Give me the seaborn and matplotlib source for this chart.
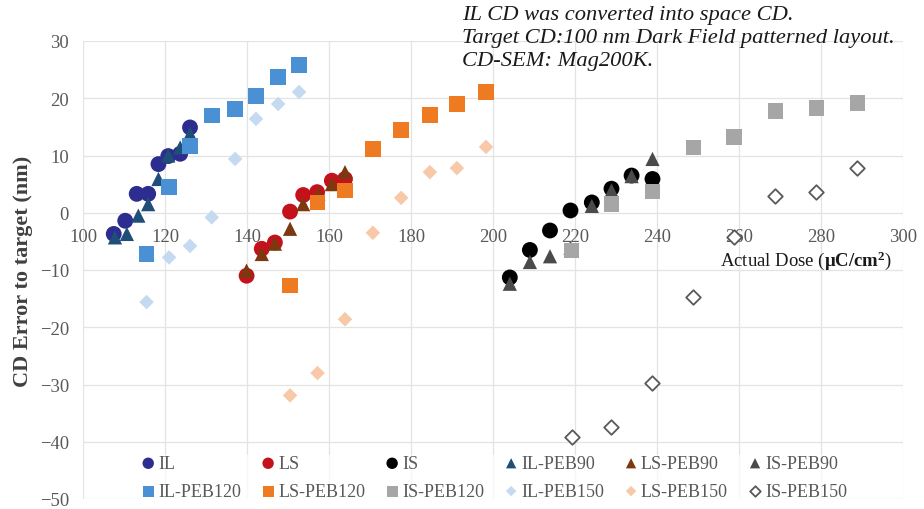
import matplotlib
matplotlib.use("Agg")
import matplotlib.pyplot as plt
import seaborn as sns
import pandas as pd

# ---- data ----
il_x = [107.5, 110.3, 113.1, 115.9, 118.4, 120.8, 123.7, 126.1]
il_y = [-3.7, -1.4, 3.3, 3.3, 8.5, 9.9, 10.3, 14.9]
ls_x = [139.9, 143.6, 146.8, 150.5, 153.7, 157.1, 160.7, 163.9]
ls_y = [-11.0, -6.3, -5.2, 0.2, 3.1, 3.6, 5.6, 5.9]
is_x = [204.1, 209.0, 213.9, 218.9, 224.1, 228.9, 233.8, 238.9]
is_y = [-11.3, -6.5, -3.1, 0.4, 1.8, 4.2, 6.5, 5.9]

il90_x = [107.8, 110.7, 113.5, 115.9, 118.4, 120.8, 123.7, 126.1]
il90_y = [-4.3, -3.7, -0.5, 1.5, 5.9, 10.0, 11.4, 13.8]
ls90_x = [139.9, 143.6, 146.8, 150.5, 153.7, 157.4, 160.7, 163.9]
ls90_y = [-10.1, -7.2, -5.4, -2.8, 1.5, 3.3, 5.0, 7.1]
is90_x = [204.1, 209.0, 213.9, 218.9, 224.1, 228.9, 233.8, 238.9]
is90_y = [-12.4, -8.6, -7.6, -6.1, 1.2, 3.9, 6.4, 9.4]

il120_x = [115.5, 121.0, 126.1, 131.4, 137.1, 142.2, 147.6, 152.7]
il120_y = [-7.2, 4.5, 11.7, 17.0, 18.1, 20.4, 23.7, 25.8]
ls120_x = [150.5, 157.2, 163.9, 170.7, 177.6, 184.6, 191.2, 198.3]
ls120_y = [-12.7, 1.8, 3.9, 11.1, 14.5, 17.1, 19.0, 21.1]
is120_x = [219.2, 228.9, 238.9, 248.9, 258.8, 268.9, 278.9, 288.9]
is120_y = [-6.6, 1.5, 3.7, 11.4, 13.2, 17.8, 18.3, 19.2]

il150_x = [115.5, 121.0, 126.1, 131.4, 137.1, 142.2, 147.6, 152.7]
il150_y = [-15.6, -7.8, -5.8, -0.8, 9.4, 16.4, 19.0, 21.1]
ls150_x = [150.5, 157.2, 163.9, 170.7, 177.6, 184.6, 191.2, 198.3]
ls150_y = [-31.9, -28.0, -18.6, -3.5, 2.6, 7.1, 7.8, 11.5]
is150_x = [219.2, 228.9, 238.9, 248.9, 258.8, 268.9, 278.9, 288.9]
is150_y = [-39.2, -37.5, -29.7, -14.7, -4.3, 2.9, 3.6, 7.8]

x_ticks = [100, 120, 140, 160, 180, 200, 220, 240, 260, 280, 300]
y_ticks = [30, 20, 10, 0, -10, -20, -30, -40, -50]

# (label, x, y, marker, size, face, edge)
series = [
    ("IL", il_x, il_y, "o", 130, "#2C2D8F", "none"),
    ("LS", ls_x, ls_y, "o", 130, "#C4121C", "none"),
    ("IS", is_x, is_y, "o", 130, "#000000", "none"),
    ("IL-PEB90", il90_x, il90_y, "^", 105, "#1F4E79", "none"),
    ("LS-PEB90", ls90_x, ls90_y, "^", 105, "#7E3810", "none"),
    ("IS-PEB90", is90_x, is90_y, "^", 105, "#4A4A4A", "none"),
    ("IL-PEB120", il120_x, il120_y, "s", 125, "#4A90D4", "none"),
    ("LS-PEB120", ls120_x, ls120_y, "s", 125, "#EE7A22", "none"),
    ("IS-PEB120", is120_x, is120_y, "s", 125, "#A6A6A6", "none"),
    ("IL-PEB150", il150_x, il150_y, "D", 55, "#C3DAF0", "none"),
    ("LS-PEB150", ls150_x, ls150_y, "D", 55, "#F8C9A8", "none"),
    ("IS-PEB150", is150_x, is150_y, "D", 55, "#FFFFFF", "#595959"),
]

sns.set_theme(style="white")
plt.rcParams["font.family"] = ["Liberation Serif", "DejaVu Serif"]
plt.rcParams["mathtext.fontset"] = "custom"
plt.rcParams["mathtext.rm"] = "Liberation Serif"
plt.rcParams["mathtext.bf"] = "Liberation Serif:bold"

W, H = 924, 510
fig = plt.figure(figsize=(W / 100, H / 100), dpi=100)
ax = fig.add_axes([83 / W, 10 / H, (903 - 83) / W, 458 / H])

for lab, xs, ys, mk, sz, fc, ec in series:
    df = pd.DataFrame({"dose": xs, "err": ys})
    lw = 1.3 if ec != "none" else 0
    sns.scatterplot(data=df, x="dose", y="err", ax=ax, marker=mk, s=sz,
                    color=fc, edgecolor=ec, linewidth=lw, label=lab, zorder=3)

ax.set_xlim(100, 300)
ax.set_ylim(-50, 30)
ax.set_xticks(x_ticks)
ax.set_yticks(y_ticks)
ax.grid(True, color="#E3E3E3", linewidth=0.9)
ax.set_axisbelow(True)
for sp in ax.spines.values():
    sp.set_visible(False)
ax.spines["bottom"].set_position(("data", 0))
ax.tick_params(axis="both", length=0, labelsize=13.4, labelcolor="#595959")
ax.tick_params(axis="x", pad=11)
ax.tick_params(axis="y", pad=10)

ax.set_xlabel("")
ax.set_ylabel("CD Error to target (nm)", fontsize=16, fontweight="bold",
              color="#404040", labelpad=5)
ax.text(276.3, -8.2, r"Actual Dose ($\mathbf{μC/cm^2}$)", fontsize=13.5,
        ha="center", va="center", color="#1A1A1A", zorder=4)

fig.text(462 / W, 1 - 6 / H,
         "IL CD was converted into space CD.\n"
         "Target CD:100 nm Dark Field patterned layout.\n"
         "CD-SEM: Mag200K.",
         ha="left", va="top", fontsize=16.2, style="italic",
         color="#1A1A1A", linespacing=1.3)

# legend: row-wise order (2 rows x 6 columns) -> interleave for matplotlib
handles, labels = ax.get_legend_handles_labels()
order = []
for i in range(6):
    order += [i, i + 6]
handles = [handles[i] for i in order]
labels = [labels[i] for i in order]
leg = ax.legend(handles, labels, ncols=6, markerscale=0.72, fontsize=13,
                loc="upper left", bbox_to_anchor=(141 / W, 1 - 456 / H),
                bbox_transform=fig.transFigure, borderpad=0, borderaxespad=0,
                handlelength=0.8, handletextpad=0.15, columnspacing=1.1,
                labelspacing=0.6, frameon=True, framealpha=0.75,
                edgecolor="none", facecolor="white")
for t in leg.get_texts():
    t.set_color("#595959")

fig.savefig("out.png", dpi=100)
